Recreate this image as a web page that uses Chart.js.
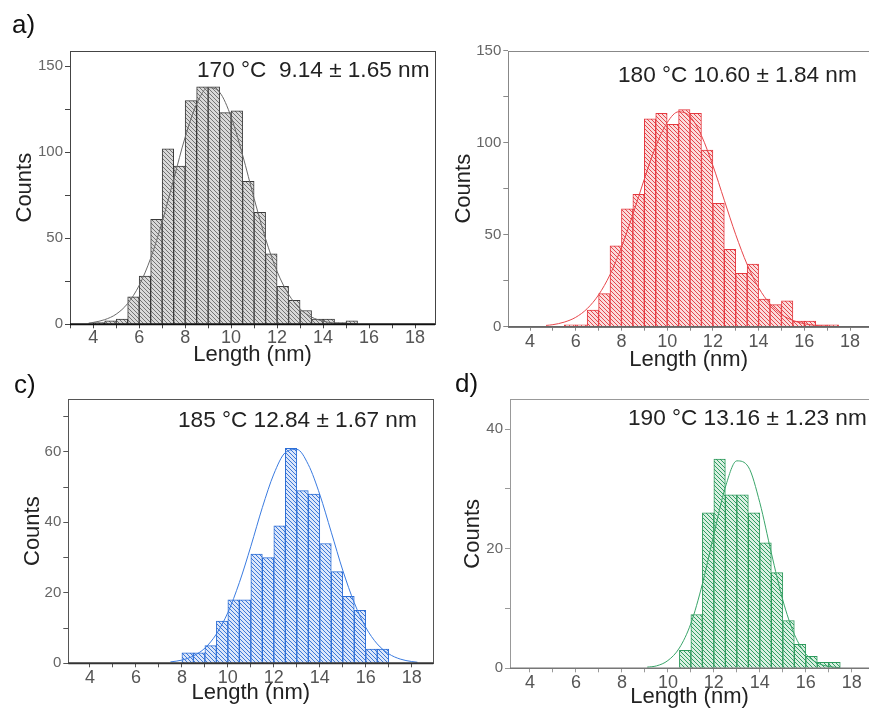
<!DOCTYPE html>
<html>
<head>
<meta charset="utf-8">
<script src="https://cdn.jsdelivr.net/npm/chart.js@4.4.1/dist/chart.umd.min.js"></script>
<style>
  body { margin: 0; background: #fff; width: 869px; height: 711px; overflow: hidden; position: relative; font-family: "Liberation Sans", Arial, sans-serif; }
  canvas { position: absolute; }
  .lbl { position: absolute; font-size: 26px; line-height: 26px; color: #111; }
  .nota { position: absolute; font-size: 22.6px; line-height: 22px; color: #222; white-space: nowrap; }
</style>
</head>
<body>
<canvas id="cA" width="440" height="375" style="left:0;top:0"></canvas>
<canvas id="cB" width="429" height="375" style="left:440px;top:0"></canvas>
<canvas id="cC" width="440" height="336" style="left:0;top:375px"></canvas>
<canvas id="cD" width="429" height="336" style="left:440px;top:375px"></canvas>

<div class="lbl" style="left:12px;top:11px">a)</div>
<div class="lbl" style="left:14px;top:371px">c)</div>
<div class="lbl" style="left:455px;top:370px">d)</div>

<div class="nota" style="left:197px;top:59px">170 °C&nbsp; 9.14 ± 1.65 nm</div>
<div class="nota" style="left:618px;top:64px">180 °C 10.60 ± 1.84 nm</div>
<div class="nota" style="left:178px;top:409px">185 °C 12.84 ± 1.67 nm</div>
<div class="nota" style="left:628px;top:407px">190 °C 13.16 ± 1.23 nm</div>

<script>
// --- DATOS ---
// centros de los bins (0.5 nm) y cuentas
const binsA = [4.25, 4.75, 5.25, 5.75, 6.25, 6.75, 7.25, 7.75, 8.25, 8.75, 9.25, 9.75, 10.25, 10.75, 11.25, 11.75, 12.25, 12.75, 13.25, 13.75, 14.25, 14.75, 15.25];
const countsA = [1, 2, 3, 16, 28, 61, 102, 92, 130, 138, 138, 123, 124, 83, 65, 41, 22, 14, 8, 3, 3, 1, 2];

const binsB = [5.75, 6.25, 6.75, 7.25, 7.75, 8.25, 8.75, 9.25, 9.75, 10.25, 10.75, 11.25, 11.75, 12.25, 12.75, 13.25, 13.75, 14.25, 14.75, 15.25, 15.75, 16.25, 16.75, 17.25];
const countsB = [1, 1, 9, 18, 44, 64, 72, 113, 116, 110, 118, 116, 96, 67, 42, 29, 34, 15, 12, 14, 3, 3, 1, 1];

const binsC = [8.25, 8.75, 9.25, 9.75, 10.25, 10.75, 11.25, 11.75, 12.25, 12.75, 13.25, 13.75, 14.25, 14.75, 15.25, 15.75, 16.25, 16.75];
const countsC = [3, 3, 5, 12, 18, 18, 31, 30, 39, 61, 49, 48, 34, 26, 19, 15, 4, 4];

const binsD = [10.75, 11.25, 11.75, 12.25, 12.75, 13.25, 13.75, 14.25, 14.75, 15.25, 15.75, 16.25, 16.75, 17.25];
const countsD = [3, 9, 26, 35, 29, 29, 26, 21, 16, 8, 4, 2, 1, 1];

// curvas de ajuste
const curvaXA = [3.8, 4, 4.5, 5, 5.5, 6, 6.5, 7, 7.5, 8, 8.5, 9, 9.5, 10, 10.5, 11, 11.5, 12, 12.5, 13, 13.5, 14, 14.5, 15, 15.5];
const curvaYA = [0.7, 1.1, 2.7, 5.9, 12.1, 22.6, 38.4, 59.5, 84.2, 108.7, 128, 137.5, 134.8, 120.5, 98.3, 73.1, 49.6, 30.7, 17.4, 8.9, 4.2, 1.8, 0.7, 0.3, 0.1];

const curvaXB = [4.7, 5, 5.5, 6, 6.5, 7, 7.5, 8, 8.5, 9, 9.5, 10, 10.5, 11, 11.5, 12, 12.5, 13, 13.5, 14, 14.5, 15, 15.5, 16, 16.5, 17, 17.5];
const curvaYB = [0.7, 1.1, 2.5, 5.1, 9.8, 17.3, 28.3, 43.1, 61, 80.2, 97.9, 110.9, 116.8, 114.3, 103.8, 87.6, 68.7, 50, 33.8, 21.2, 12.4, 6.7, 3.4, 1.6, 0.7, 0.3, 0.1];

const curvaXC = [7.5, 8, 8.5, 9, 9.5, 10, 10.5, 11, 11.5, 12, 12.5, 13, 13.5, 14, 14.5, 15, 15.5, 16, 16.5, 17, 17.5, 18, 18.25];
const curvaYC = [0.4, 0.9, 2.1, 4.3, 8.3, 14.4, 22.9, 33.2, 44.2, 53.7, 59.8, 60.7, 56.4, 47.9, 37.2, 26.4, 17.2, 10.2, 5.5, 2.7, 1.2, 0.5, 0.3];

const curvaXD = [9.1, 9.5, 10, 10.5, 11, 11.5, 12, 12.5, 13, 13.5, 14, 14.5, 15, 15.5, 16, 16.5, 17, 17.5];
const curvaYD = [0.2, 0.4, 1.3, 3.4, 7.5, 14.1, 22.4, 30.3, 34.7, 33.7, 27.7, 19.3, 11.4, 5.7, 2.4, 0.9, 0.3, 0.1];

// etiquetas de los ejes
const etiquetasX = [4, 6, 8, 10, 12, 14, 16, 18];
const etiquetasYA = [0, 50, 100, 150];
const etiquetasYB = [0, 50, 100, 150];
const etiquetasYC = [0, 20, 40, 60];
const etiquetasYD = [0, 20, 40];

const FUENTE = '"Liberation Sans", Arial, sans-serif';

// relleno rayado "\\\\"
function rayado(linea, fondo) {
    const c = document.createElement('canvas');
    c.width = 4; c.height = 4;
    const g = c.getContext('2d');
    g.fillStyle = fondo;
    g.fillRect(0, 0, 4, 4);
    g.strokeStyle = linea;
    g.lineWidth = 1;
    g.beginPath();
    g.moveTo(-1, -1); g.lineTo(5, 5);
    g.moveTo(-1, 3); g.lineTo(1, 5);
    g.moveTo(3, -1); g.lineTo(5, 1);
    g.stroke();
    return g.createPattern(c, 'repeat');
}

// marco alrededor del área del gráfico
const marco = {
    id: 'marco',
    afterDatasetsDraw(chart, args, o) {
        const { ctx, chartArea: a } = chart;
        ctx.save();
        ctx.strokeStyle = o.color;
        ctx.lineWidth = 1;
        ctx.strokeRect(Math.round(a.left) + 0.5, Math.round(a.top) + 0.5, Math.round(a.right - a.left), Math.round(a.bottom - a.top));
        ctx.strokeStyle = o.base;
        ctx.lineWidth = o.grosor;
        ctx.beginPath();
        ctx.moveTo(a.left, a.bottom);
        ctx.lineTo(a.right, a.bottom);
        ctx.stroke();
        ctx.restore();
    }
};

function histograma(id, p) {
    const lienzo = document.getElementById(id);
    const H = lienzo.height, W = lienzo.width;
    new Chart(lienzo, {
        type: 'bar',
        data: {
            datasets: [
                {
                    type: 'line',
                    data: p.curvaX.map((x, i) => ({ x, y: p.curvaY[i] })),
                    borderColor: p.curva,
                    borderWidth: 1,
                    pointRadius: 0,
                    cubicInterpolationMode: 'monotone',
                    fill: false,
                    order: 0
                },
                {
                    type: 'bar',
                    data: p.bins.map((x, i) => ({ x, y: p.counts[i] })),
                    backgroundColor: rayado(p.rayas, p.fondo),
                    borderColor: p.borde,
                    borderWidth: 1,
                    barPercentage: 1,
                    categoryPercentage: 1,
                    order: 1
                }
            ]
        },
        options: {
            responsive: false,
            animation: false,
            events: [],
            layout: { padding: { left: 0, top: p.area.top, right: W - p.area.right, bottom: 0 } },
            plugins: {
                legend: { display: false },
                tooltip: { enabled: false },
                marco: { color: p.marco, base: p.base, grosor: p.grosor }
            },
            scales: {
                x: {
                    type: 'linear',
                    min: p.xMin, max: p.xMax,
                    offset: false,
                    grid: { drawOnChartArea: false, drawTicks: true, tickLength: 4, color: p.marco, offset: false },
                    border: { display: false },
                    ticks: {
                        stepSize: 1, autoSkip: false, maxRotation: 0, includeBounds: false,
                        padding: p.padX, color: '#555',
                        font: { family: FUENTE, size: 18, lineHeight: 1 },
                        callback: v => etiquetasX.includes(v) ? v : ''
                    },
                    title: {
                        display: true, text: 'Length (nm)', color: '#222',
                        font: { family: FUENTE, size: 22 },
                        padding: { top: 0, bottom: p.padTx }
                    },
                    afterFit: s => { s.height = H - p.area.bottom; }
                },
                y: {
                    min: 0, max: p.yMax,
                    grid: { drawOnChartArea: false, drawTicks: true, tickLength: 5, color: p.marco },
                    border: { display: false },
                    ticks: {
                        stepSize: p.yPaso, autoSkip: false, includeBounds: false,
                        padding: 2, color: '#666',
                        font: { family: FUENTE, size: 15, lineHeight: 1 },
                        callback: v => p.etiquetasY.includes(v) ? v : ''
                    },
                    title: {
                        display: true, text: 'Counts', color: '#222',
                        font: { family: FUENTE, size: 22 },
                        padding: { top: p.padTy, bottom: 0 }
                    },
                    afterFit: s => { s.width = p.area.left; }
                }
            }
        },
        plugins: [marco]
    });
}

histograma('cA', {
    bins: binsA, counts: countsA, curvaX: curvaXA, curvaY: curvaYA, etiquetasY: etiquetasYA,
    rayas: '#737373', fondo: '#d9d9d9', borde: '#3a3a3a', curva: '#6a6a6a',
    marco: '#444', base: '#111', grosor: 2,
    xMin: 2.99, xMax: 18.87, yMax: 158.8, yPaso: 25,
    area: { left: 70, top: 51, right: 435, bottom: 324.3 },
    padX: 1, padTx: 6.8, padTy: 11.8
});

histograma('cB', {
    bins: binsB, counts: countsB, curvaX: curvaXB, curvaY: curvaYB, etiquetasY: etiquetasYB,
    rayas: '#e4474d', fondo: '#fbdcdc', borde: '#e5383f', curva: '#e8474c',
    marco: '#888', base: '#666', grosor: 1.5,
    xMin: 3.05, xMax: 18.83, yMax: 150, yPaso: 25,
    area: { left: 68.3, top: 50.7, right: 429, bottom: 326.7 },
    padX: 2, padTx: 1.8, padTy: 10.8
});

histograma('cC', {
    bins: binsC, counts: countsC, curvaX: curvaXC, curvaY: curvaYC, etiquetasY: etiquetasYC,
    rayas: '#3b78d8', fondo: '#dbe6fa', borde: '#2d6ed6', curva: '#3a7be0',
    marco: '#555', base: '#333', grosor: 2,
    xMin: 3.056, xMax: 18.94, yMax: 75, yPaso: 10,
    area: { left: 68.3, top: 24, right: 433.3, bottom: 288.3 },
    padX: 2, padTx: 4.8, padTy: 19.3
});

histograma('cD', {
    bins: binsD, counts: countsD, curvaX: curvaXD, curvaY: curvaYD, etiquetasY: etiquetasYD,
    rayas: '#2f9e62', fondo: '#d9efe1', borde: '#2e9a5c', curva: '#3aa56a',
    marco: '#999', base: '#777', grosor: 1.5,
    xMin: 3.13, xMax: 18.75, yMax: 45, yPaso: 10,
    area: { left: 70, top: 24.3, right: 429, bottom: 293.3 },
    padX: 2, padTx: 0.8, padTy: 19.3
});
</script>
</body>
</html>
